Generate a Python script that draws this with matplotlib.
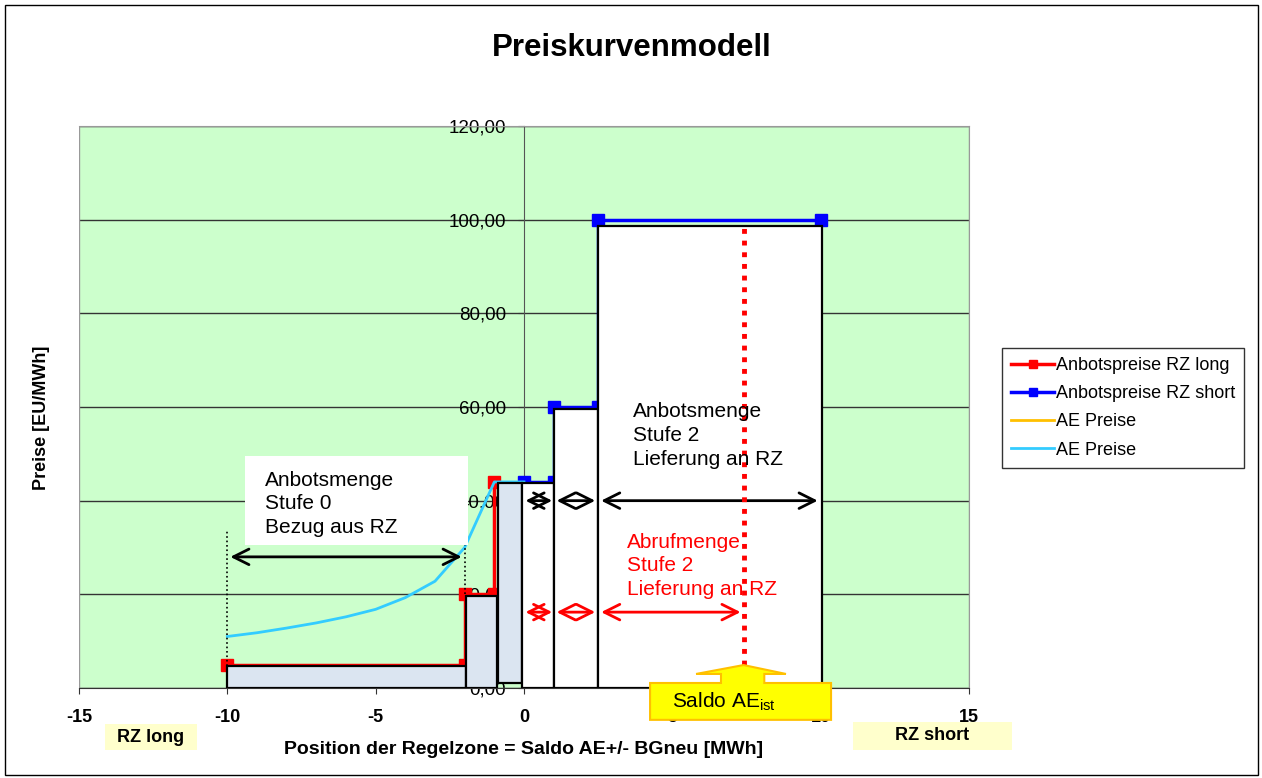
import matplotlib
matplotlib.use("Agg")
import matplotlib.pyplot as plt
from matplotlib.patches import Rectangle, Polygon
from matplotlib.ticker import FuncFormatter

plt.rcParams.update({
    "font.family": ["Liberation Sans", "DejaVu Sans"],
    "mathtext.fontset": "custom",
    "mathtext.rm": "Liberation Sans",
    "mathtext.it": "Liberation Sans",
    "axes.unicode_minus": False,
})

# ── Daten ──
long_x = [-10, -2, -2, -1, -1]
long_y = [5, 5, 20, 20, 44]
short_x = [0, 1, 1, 2.5, 2.5, 10]
short_y = [44, 44, 60, 60, 100, 100]
ae_x = [-1, 0, 1]
ae_y = [44, 44, 44]
ae2_x = [-10, -9, -8, -7, -6, -5, -4, -3, -2, -1, 0]
ae2_y = [11, 11.8, 12.8, 13.9, 15.2, 16.8, 19.3, 22.8, 30, 44, 44]

# Mengenblöcke: (x0, x1, y0, y1)
grey_blocks = [(-10, -1.95, 0, 4.7), (-1.95, -0.91, 0, 19.6), (-0.88, -0.07, 1, 43.8)]
white_blocks = [(-0.07, 1.01, 0, 43.8), (1.01, 2.49, 0, 59.6), (2.49, 10.04, 0, 98.7)]

# Doppelpfeile: (x0, x1, y)
black_arrows = [(0.05, 0.95, 40), (1.1, 2.4, 40), (2.6, 9.9, 40), (-9.9, -2.1, 28)]
red_arrows = [(0.05, 0.95, 16.2), (1.1, 2.4, 16.2), (2.6, 7.3, 16.2)]
saldo_ist = 7.4

fig = plt.figure(figsize=(12.62, 7.78), dpi=100)
ax = fig.add_axes([79 / 1262, 1 - 688 / 778, 890 / 1262, 562 / 778])
ax.set_facecolor("#ccffcc")
ax.set_xlim(-15, 15)
ax.set_ylim(0, 120)

# Gitter
ax.set_yticks([0, 20, 40, 60, 80, 100, 120])
ax.yaxis.grid(True, color="#333333", linewidth=1.0)
ax.set_axisbelow(True)

# Achsen
ax.spines["left"].set_position(("data", 0))
ax.spines["left"].set_color("#555555")
ax.spines["left"].set_zorder(1)
for s in ["top", "right"]:
    ax.spines[s].set_color("#999999")
ax.spines["bottom"].set_color("#333333")
ax.add_patch(Rectangle((0, 0), 1, 1, transform=ax.transAxes, fill=False,
                       edgecolor="#999999", linewidth=1, zorder=0.6))
ax.set_xticks([-15, -10, -5, 0, 5, 10, 15])
ax.tick_params(axis="x", length=4, pad=11, labelsize=13, color="#333333")
for lbl in ax.get_xticklabels():
    lbl.set_fontweight("bold")
ax.tick_params(axis="y", length=4, pad=9, labelsize=13.5, color="#333333")
ax.yaxis.set_major_formatter(FuncFormatter(lambda v, p: f"{v:.2f}".replace(".", ",")))

# Kurven
ax.plot(long_x, long_y, "-s", color="#ff0000", lw=2.5, ms=8, zorder=2.6,
        label="Anbotspreise RZ long")
ax.plot(short_x, short_y, "-s", color="#0000ff", lw=2.5, ms=8, zorder=2.6,
        label="Anbotspreise RZ short")
ax.plot(ae_x, ae_y, "-", color="#ffc000", lw=2.0, zorder=2.55, label="AE Preise")
ax.plot(ae2_x, ae2_y, "-", color="#33ccff", lw=2.0, zorder=2.7, label="AE Preise")

# Blöcke
for x0, x1, y0, y1 in grey_blocks:
    ax.add_patch(Rectangle((x0, y0), x1 - x0, y1 - y0, facecolor="#dbe5f1",
                           edgecolor="black", lw=1.6, zorder=3))
for x0, x1, y0, y1 in white_blocks:
    ax.add_patch(Rectangle((x0, y0), x1 - x0, y1 - y0, facecolor="white",
                           edgecolor="black", lw=1.6, zorder=3))

# Pfeile
for x0, x1, y in black_arrows:
    ax.annotate("", xy=(x0, y), xytext=(x1, y),
                arrowprops=dict(arrowstyle="<->", color="black", lw=2,
                                mutation_scale=28, shrinkA=0, shrinkB=0), zorder=4)
for x0, x1, y in red_arrows:
    ax.annotate("", xy=(x0, y), xytext=(x1, y),
                arrowprops=dict(arrowstyle="<->", color="#ff0000", lw=2,
                                mutation_scale=28, shrinkA=0, shrinkB=0), zorder=4)

# Hilfslinien
ax.plot([-10, -10], [0, 34], ":", color="black", lw=1.2, zorder=2.8)
ax.plot([-2, -2], [20, 31.4], ":", color="black", lw=1.2, zorder=2.8)
ax.plot([saldo_ist, saldo_ist], [4.9, 98.5], color="#ff0000", lw=3.5,
        linestyle=(0, (1, 1.4)), zorder=4)

# Textboxen
ax.add_patch(Rectangle((-9.4, 30.5), 7.5, 19, facecolor="white", edgecolor="none", zorder=3.5))
ax.text(-8.73, 46.4, "Anbotsmenge\nStufe 0\nBezug aus RZ", fontsize=15,
        va="top", ha="left", linespacing=1.31, zorder=5)
ax.text(3.67, 61.0, "Anbotsmenge\nStufe 2\nLieferung an RZ", fontsize=15,
        va="top", ha="left", linespacing=1.31, zorder=5)
ax.text(3.47, 33.2, "Abrufmenge\nStufe 2\nLieferung an RZ", fontsize=15,
        color="#ff0000", va="top", ha="left", linespacing=1.31, zorder=5)

# Saldo-Pfeil
call = [(4.25, -6.8), (10.35, -6.8), (10.35, 1.07), (8.1, 1.07), (8.1, 3.0),
        (8.83, 3.0), (saldo_ist, 4.9), (5.8, 3.0), (6.64, 3.0), (6.64, 1.07),
        (4.25, 1.07)]
ax.add_patch(Polygon(call, closed=True, facecolor="#ffff00", edgecolor="#ffc000",
                     lw=1.5, clip_on=False, zorder=6))
ax.text(5.0, -2.9, r"Saldo AE$_{\mathrm{ist}}$", fontsize=15, va="center",
        ha="left", zorder=7, clip_on=False)

ax.set_xlabel("Position der Regelzone = Saldo AE+/- BGneu [MWh]", fontsize=14,
              fontweight="bold", labelpad=11)
fig.text(42 / 1262, 1 - 418 / 778, "Preise [EU/MWh]", rotation=90, fontsize=13,
         fontweight="bold", ha="center", va="center")
fig.text(632 / 1262, 1 - 48 / 778, "Preiskurvenmodell", fontsize=22.5,
         fontweight="bold", ha="center", va="center")

# RZ long / short Felder
for (px0, px1, py0, py1, txt) in [(105, 197, 724, 750, "RZ long"),
                                  (853, 1012, 722, 750, "RZ short")]:
    fig.patches.append(Rectangle((px0 / 1262, 1 - py1 / 778), (px1 - px0) / 1262,
                                 (py1 - py0) / 778, transform=fig.transFigure,
                                 facecolor="#ffffcc", edgecolor="none"))
    fig.text((px0 + px1) / 2 / 1262, 1 - (py0 + py1) / 2 / 778, txt, fontsize=13,
             fontweight="bold", ha="center", va="center")

# Legende
handles, labels = ax.get_legend_handles_labels()
leg = fig.legend(handles, labels, loc="upper left",
                 bbox_to_anchor=(1002 / 1262, 1 - 348 / 778), fontsize=13,
                 frameon=True, fancybox=False, edgecolor="black",
                 handlelength=2.4, handletextpad=0.1, borderpad=0.5,
                 labelspacing=0.62, markerscale=0.8, borderaxespad=0)
leg.get_frame().set_linewidth(1.0)

# Rahmen
fig.patches.append(Rectangle((5 / 1262, 3 / 778), 1253 / 1262, 770 / 778,
                             transform=fig.transFigure, fill=False,
                             edgecolor="black", lw=1))

fig.savefig("out.png", dpi=100)
